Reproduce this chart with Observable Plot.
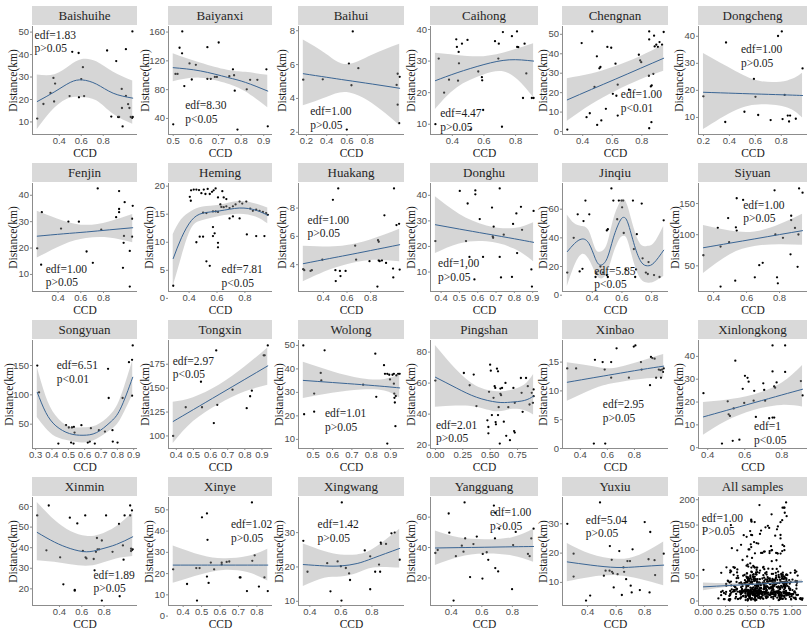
<!DOCTYPE html>
<html><head><meta charset="utf-8">
<script src="https://cdn.jsdelivr.net/npm/d3@7"></script>
<script src="https://cdn.jsdelivr.net/npm/@observablehq/plot@0.6"></script>
<style>
body{margin:0;background:#fff;}
#chart{position:relative;width:810px;height:630px;overflow:hidden;background:#fff;}
.strip{position:absolute;background:#d9d9d9;font-family:"Liberation Serif",serif;font-weight:400;font-size:13px;color:#262626;text-align:center;height:19px;line-height:19px;white-space:nowrap;}
#chart svg{position:absolute;overflow:visible;}
</style></head><body><div id="chart"></div>
<script>
// ---------- data: [CCD, Distance] ----------
const baishuihe = [[0.20,11.5],[0.256,18.0],[0.32,22.9],[0.347,29.6],[0.362,27.1],[0.353,19.1],[0.494,21.5],[0.518,41.2],[0.576,40.7],[0.579,21.0],[0.60,29.1],[0.615,34.4],[0.626,21.5],[0.835,41.8],[0.873,12.4],[0.918,37.1],[0.935,12.2],[0.944,12.2],[0.968,24.7],[0.97,16.2],[0.976,8.0],[1.006,42.4],[1.006,21.6],[1.026,17.9],[1.038,16.2],[1.05,12.2],[1.062,11.8],[1.068,12.2],[1.065,50.3]];
const baiyanxi = [[0.50,31.8],[0.51,101.8],[0.519,101.8],[0.528,138.2],[0.54,160.9],[0.539,130.5],[0.549,85],[0.572,116.4],[0.582,94.1],[0.60,114.5],[0.651,139],[0.651,95],[0.666,95],[0.684,97.7],[0.693,97.7],[0.701,145.5],[0.748,98.6],[0.764,108.2],[0.769,100],[0.772,78.6],[0.784,24.5],[0.825,80.5],[0.84,93.6],[0.872,93.6],[0.912,108.2],[0.918,29.1]];
const baihui = [[0.169,5.11],[0.361,5.13],[0.619,6.06],[0.657,7.96],[0.712,5.79],[0.644,4.78],[0.598,2.16],[1.09,4.80],[1.10,5.46],[1.12,5.28],[1.10,3.63],[1.115,2.54]];
const caihong = [[0.293,10],[0.314,30.8],[0.348,20],[0.379,24.1],[0.425,36.9],[0.429,34.5],[0.44,32.9],[0.442,29.3],[0.436,23.8],[0.461,35.5],[0.496,36.7],[0.515,8.3],[0.564,26.7],[0.595,14.5],[0.587,24.9],[0.589,23.9],[0.67,36.3],[0.694,35.5],[0.691,30.8],[0.72,39.2],[0.714,9.2],[0.777,37.9],[0.809,39.4],[0.81,34.5],[0.817,34.4],[0.857,35.5],[0.868,26.1],[0.847,18.3],[0.903,18.3],[0.914,18.3]];
const chengnan = [[0.296,1.0],[0.393,45.5],[0.465,51.5],[0.448,9.4],[0.426,7.4],[0.496,38.7],[0.513,32.5],[0.52,33.2],[0.48,22.9],[0.498,3.4],[0.526,5.7],[0.557,11.7],[0.567,43.5],[0.593,43.1],[0.604,19.4],[0.622,34.9],[0.628,18.4],[0.637,24.1],[0.637,8.2],[0.713,21.5],[0.78,39.5],[0.789,36.6],[0.796,35.7],[0.85,51.5],[0.85,47.4],[0.848,28.7],[0.861,23.2],[0.867,23.7],[0.865,4.8],[0.85,1.7],[0.878,29.7],[0.883,49.3],[0.887,43.8],[0.898,44.7],[0.909,43.5],[0.92,46],[0.937,44.7],[0.948,51.2]];
const dongcheng = [[0.2,17.8],[0.374,37.7],[0.368,8.3],[0.589,24.2],[0.601,17.6],[0.516,12.1],[0.622,10.9],[0.718,9.0],[0.775,40.1],[0.804,41.8],[0.81,9.4],[0.826,18.3],[0.85,10.7],[0.868,10.7],[0.86,8.5],[0.912,9.5],[0.964,28.1]];
const fenjin = [[0.217,19.9],[0.257,33.6],[0.251,13.7],[0.426,27.4],[0.491,30],[0.583,30],[0.651,18.7],[0.706,14.4],[0.749,42.6],[0.78,27],[0.911,31.7],[0.937,41.6],[0.937,34.8],[0.937,33.6],[0.986,37.4],[0.98,24.6],[0.977,22],[0.971,12.5],[1.031,18.9],[1.031,5.4],[1.057,36],[1.051,31.1],[1.051,24.3]];
const heming = [[0.286,2.25],[0.405,18.1],[0.412,17.4],[0.414,19.25],[0.433,19.4],[0.452,19.4],[0.471,19.3],[0.488,18.75],[0.505,19.4],[0.517,18.6],[0.533,19.5],[0.548,18.6],[0.564,19],[0.576,19.25],[0.59,19.6],[0.607,18],[0.638,19.1],[0.648,18],[0.667,17.7],[0.5,15.3],[0.524,15.2],[0.571,15.5],[0.59,15.5],[0.607,15.4],[0.624,16.75],[0.631,16.3],[0.648,16.25],[0.667,16.4],[0.69,16.1],[0.714,16.4],[0.733,16.75],[0.762,17.25],[0.781,16.9],[0.81,17.25],[0.838,16],[0.857,15.6],[0.881,15.8],[0.905,15.6],[0.929,15.4],[0.952,15.2],[0.964,14.9],[0.452,10.0],[0.476,11],[0.5,11],[0.571,11.1],[0.583,11.6],[0.524,6.6],[0.548,5.8],[0.607,9.9],[0.607,9.1],[0.69,14.25],[0.714,14.6],[0.814,11.4],[0.881,11.1],[0.94,11.1],[0.571,12.7],[0.762,14.25]];
const huakang = [[0.231,3.68],[0.239,3.61],[0.292,3.56],[0.303,3.61],[0.392,4.35],[0.481,8.58],[0.526,9.39],[0.502,3.61],[0.505,2.84],[0.54,3.56],[0.545,3.19],[0.588,3.56],[0.669,5.34],[0.677,4.35],[0.79,4.25],[0.862,5.73],[0.868,5.62],[0.868,4.3],[0.876,4.25],[0.895,4.3],[0.916,7.49],[0.93,4.12],[0.857,2.45],[0.989,3.72],[0.991,3.1],[0.997,9.39],[1.018,6.8],[1.04,6.89],[1.045,3.65]];
const donghu = [[0.369,22.1],[0.502,41.7],[0.545,36.8],[0.536,22.1],[0.555,15.9],[0.587,41.9],[0.587,40.4],[0.582,7.1],[0.611,30.7],[0.629,15.9],[0.678,35.2],[0.687,27.7],[0.682,23.9],[0.684,23.4],[0.72,42.7],[0.72,15.9],[0.727,7.9],[0.742,24.6],[0.787,8.1],[0.793,28.8],[0.811,32.9],[0.815,17.4],[0.836,35.5],[0.842,26.5],[0.905,33.9],[0.893,11],[0.896,4.3]];
const jinqiu = [[0.232,15.8],[0.275,40],[0.302,56.4],[0.315,16.6],[0.334,18.4],[0.341,51.7],[0.354,66],[0.38,56.4],[0.422,12.7],[0.428,15.3],[0.455,20],[0.472,15.8],[0.498,45.2],[0.505,46],[0.498,14],[0.505,12.7],[0.529,74.5],[0.542,66],[0.568,53],[0.579,66],[0.597,66],[0.608,66],[0.601,61.3],[0.612,43.4],[0.625,18],[0.674,66],[0.68,32.2],[0.689,12.7],[0.695,18],[0.7,42.6],[0.733,63.9],[0.739,25.7],[0.761,15.8],[0.774,14.8],[0.779,23.1],[0.816,14],[0.853,12.7],[0.881,52.2]];
const siyuan = [[0.338,67],[0.425,111],[0.442,81],[0.442,16.7],[0.488,126.7],[0.494,88],[0.531,26.2],[0.535,111.9],[0.54,106.6],[0.54,158.5],[0.579,155.8],[0.65,31.5],[0.677,51],[0.698,54.8],[0.77,171.2],[0.775,100.3],[0.785,31.5],[0.79,22],[0.821,95],[0.867,68.5],[0.871,130.4],[0.871,123.5],[0.894,110.8],[0.91,48.4],[0.915,100.3],[0.919,174.3],[0.94,167.5]];
const songyuan = [[0.31,150],[0.321,104.3],[0.439,16.9],[0.486,48.3],[0.503,44.3],[0.517,18.6],[0.522,44.3],[0.532,16.9],[0.534,45.4],[0.538,35.7],[0.58,48.3],[0.619,18.6],[0.631,20.3],[0.638,43.1],[0.662,16.9],[0.687,39.7],[0.724,37.4],[0.743,144.3],[0.747,94.6],[0.77,39.7],[0.772,20.3],[0.801,18.6],[0.832,94.6],[0.871,155.7],[0.89,159.7],[0.89,98.6],[0.894,184.3]];
const tongxin = [[0.382,100],[0.455,130],[0.544,156.7],[0.55,130],[0.633,189.5],[0.619,113.5],[0.639,132.5],[0.728,148.4],[0.811,129],[0.831,141.5],[0.841,147.3],[0.91,184.3],[0.916,184.3],[0.934,194.7]];
const wolong = [[0.449,50],[0.453,20.7],[0.505,29.5],[0.505,21.8],[0.539,38.3],[0.542,35.1],[0.559,47.9],[0.758,33.3],[0.821,46.5],[0.826,28.1],[0.866,41.6],[0.871,37.9],[0.883,37.9],[0.883,8.2],[0.893,37.5],[0.897,35.5],[0.91,37.5],[0.917,37.9],[0.917,33.7],[0.919,29.5],[0.92,27.7],[0.922,25.7],[0.925,15.6],[0.927,28.5],[0.939,37.9],[0.947,37.9],[0.93,37.2]];
const pingshan = [[0.0,61.6],[0.26,66.5],[0.313,58.6],[0.35,65.5],[0.375,45.2],[0.475,36],[0.484,31.7],[0.484,27.6],[0.49,54.4],[0.5,71.9],[0.506,68],[0.516,39.4],[0.531,50.5],[0.541,58],[0.547,56.9],[0.55,34.9],[0.553,33.4],[0.5625,69.3],[0.572,67.6],[0.572,39.4],[0.578,44.5],[0.588,21],[0.594,56.5],[0.594,53.1],[0.6,52.2],[0.609,56.9],[0.625,35.1],[0.64,60.1],[0.647,26],[0.666,44.5],[0.681,23.2],[0.7125,56.9],[0.719,29.1],[0.725,28.1],[0.725,47.3],[0.781,63.3],[0.7875,53.7],[0.797,41.5],[0.828,63.3],[0.844,58],[0.86,46.2],[0.88,53.7],[0.89,47.3],[0.897,55.9],[0.897,51.6]];
const xinbao = [[0.304,13.9],[0.369,13.9],[0.508,15.4],[0.565,15],[0.58,13.7],[0.628,15],[0.628,12.3],[0.668,17.4],[0.5,0.85],[0.584,0.85],[0.759,12.3],[0.795,17.7],[0.807,17.9],[0.848,15],[0.853,13.7],[0.915,11],[0.922,15.9],[0.932,15.7],[0.949,15.6],[0.96,12.3],[0.98,13.7],[0.992,13.6],[0.996,12.3],[1.004,13.7],[1.011,13.3],[1.016,13.9]];
const xinlongkong = [[0.377,23.9],[0.477,1.8],[0.508,20.3],[0.513,14.6],[0.52,13.9],[0.535,3],[0.54,17.2],[0.549,38.1],[0.571,3.5],[0.589,25.8],[0.597,19.6],[0.601,31.5],[0.615,30.6],[0.621,28.9],[0.648,20.6],[0.651,24.9],[0.66,13.5],[0.7,28.2],[0.705,25.3],[0.71,20.6],[0.732,12.9],[0.75,44.8],[0.75,33.4],[0.759,26.8],[0.764,26.3],[0.75,13.2],[0.759,13.2],[0.772,28.6],[0.818,33.2],[0.818,44.8],[0.903,29.2],[0.912,22.9]];
const xinmin = [[0.201,55.7],[0.304,60.5],[0.283,38.7],[0.406,35.3],[0.435,22.2],[0.493,54.6],[0.537,19.1],[0.537,19.5],[0.56,51.8],[0.631,55.7],[0.61,38.4],[0.634,35.3],[0.642,34.8],[0.707,34.5],[0.715,29],[0.727,38],[0.736,44.7],[0.742,39.2],[0.756,39.2],[0.78,43.5],[0.78,14.3],[0.818,55.7],[0.876,38],[0.934,51.5],[0.969,41.1],[0.984,55.7],[0.975,34.2],[0.94,16.4],[1.034,60.5],[1.034,55.7],[1.05,58.1],[1.042,39.5],[1.042,38.4],[1.05,38.9],[1.057,39.2]];
const xinye = [[0.346,22],[0.421,15.1],[0.471,22.6],[0.489,22.6],[0.502,46.5],[0.529,48.3],[0.532,35.9],[0.529,18.6],[0.538,15.6],[0.475,7.3],[0.55,25.2],[0.568,22],[0.609,25.2],[0.609,24.3],[0.636,25.5],[0.65,25.7],[0.707,18.2],[0.711,18.2],[0.746,11.8],[0.773,53.5],[0.775,26],[0.788,28.6],[0.811,13.9],[0.841,18.2],[0.859,11.8]];
const xingwang = [[0.358,27.6],[0.385,18.6],[0.512,21.1],[0.533,12.9],[0.579,21.6],[0.6,20.2],[0.604,10.2],[0.606,38.8],[0.632,19.7],[0.653,18.1],[0.659,16.2],[0.754,24.8],[0.789,23.1],[0.789,13.5],[0.821,18.6],[0.846,20.7],[0.853,18.6],[0.857,27.1],[0.859,26.7],[0.891,26.7],[0.926,29.8],[0.947,30],[0.979,22.1]];
const yangguang = [[0.296,36.4],[0.311,38.4],[0.383,62.4],[0.387,49.8],[0.415,5.1],[0.43,34.3],[0.487,69.7],[0.491,46],[0.469,41.2],[0.48,37.3],[0.523,20.6],[0.545,42.3],[0.567,47.2],[0.606,35.8],[0.604,19.6],[0.632,36.9],[0.642,31.9],[0.679,67.6],[0.688,62.8],[0.714,52.4],[0.686,46],[0.688,26.5],[0.707,24.3],[0.798,12.6],[0.805,41.6],[0.822,50.3],[0.902,35.8],[0.913,34.3],[0.924,46],[0.939,52.4]];
const yuxiu = [[0.258,30],[0.302,19.8],[0.302,12],[0.389,3.8],[0.418,5.5],[0.487,37.3],[0.514,12.3],[0.526,14],[0.554,14],[0.556,22.4],[0.569,17.7],[0.571,13.6],[0.578,13.1],[0.583,8.3],[0.61,12.8],[0.622,20.7],[0.64,5.7],[0.651,15.1],[0.656,13.6],[0.67,11.1],[0.679,17.3],[0.697,17.3],[0.702,8.9],[0.709,6.6],[0.715,21.3],[0.766,7.4],[0.8,30.6],[0.827,17.9],[0.839,27.2],[0.834,6.6],[0.869,17.6],[0.873,12.5],[0.933,19.8]];

// ---------- smooth fits: [CCD, fit, lower, upper] ----------
const baishuiheFit = [[0.20,19.1,6.6,30.9],[0.36,23.5,16.2,31.0],[0.50,27.6,20.6,35.0],[0.61,28.7,20.8,37.8],[0.74,26.8,19.4,36.8],[0.89,22.8,13.5,32.2],[1.068,20.6,9.0,28.2]];
const baiyanxiFit = [[0.50,110.5,91,130],[0.62,106,96,117],[0.74,97,88,107],[0.82,90,77,104],[0.918,78,55,100]];
const baihuiFit = [[0.169,5.46,3.57,7.45],[0.4,5.25,4.06,6.6],[0.6,5.07,4.35,6.0],[0.85,4.85,3.7,6.55],[1.12,4.6,2.4,7.2]];
const caihongFit = [[0.293,23.8,14.7,32.5],[0.43,26.3,21.5,31.8],[0.6,28.9,25.6,31.4],[0.76,30.4,26.0,33.0],[0.914,30.0,18.5,35.5]];
const chengnanFit = [[0.296,16.3,5.3,27.2],[0.46,21.7,13.8,29.6],[0.62,26.9,20.5,33.3],[0.79,32.5,26.5,38.5],[0.948,37.7,31,44.5]];
const dongchengFit = [[0.2,19.3,5.5,33.6],[0.45,18.9,12.5,27],[0.65,18.6,14.7,23.2],[0.85,18.3,13.5,23.5],[0.964,18.1,9.8,26.3]];
const fenjinFit = [[0.217,24.5,16.2,33.9],[0.45,25.4,21.2,30.2],[0.65,26.1,23.6,28.6],[0.85,26.9,23.8,29.9],[1.057,27.7,22,32.7]];
const hemingFit = [[0.286,7.1,2.1,11.4],[0.345,10.8,7.2,14.0],[0.417,13.9,12.4,15.5],[0.5,15.2,13.9,16.3],[0.62,15.6,14.6,16.6],[0.76,16.1,15.0,17.25],[0.88,15.7,14.5,16.8],[0.964,14.8,13.3,16.1]];
const huakangFit = [[0.231,4.07,2.8,5.3],[0.45,4.43,3.6,5.25],[0.6,4.67,4.0,5.35],[0.8,5.0,4.3,5.75],[1.045,5.41,4.2,6.5]];
const donghuFit = [[0.369,28.5,17.2,39.4],[0.5,26.8,21,32.6],[0.65,24.9,21.8,28.0],[0.8,23.0,19,27.0],[0.905,21.6,14,29.3]];
const jinqiuFit = [[0.232,30.4,6,56],[0.28,36,20,50],[0.33,39.2,28.3,48],[0.378,36,25,45],[0.42,25.7,16,33],[0.455,21,11.4,30],[0.5,25.7,15,35],[0.542,40,28,52],[0.586,51.7,39,64],[0.612,54.3,41,67],[0.64,50.4,38,62],[0.684,34.8,22,46],[0.73,23.1,11,35],[0.772,20.5,8.5,34],[0.816,22.6,9,36],[0.881,31.4,13,48]];
const siyuanFit = [[0.338,79.1,37.8,114.6],[0.5,86.5,68,106],[0.65,93.3,81,104.5],[0.8,100.2,84,116],[0.94,106.5,83,133]];
const songyuanFit = [[0.31,104.3,61.4,147],[0.362,70,43.1,98.6],[0.424,47.1,28.3,64.3],[0.507,34,21.4,45.4],[0.59,31.1,18,44],[0.673,35.7,24,47.5],[0.755,52.9,38.6,64.3],[0.818,75.7,56.9,92.9],[0.894,130,100,158]];
const tongxinFit = [[0.382,115.2,92,135.2],[0.5,127.6,115,140],[0.65,143.4,133,153],[0.8,159.2,146,172],[0.934,173.3,153,192]];
const wolongFit = [[0.449,35.1,27.4,42.8],[0.6,34.2,29.6,38.8],[0.75,33.3,31.0,35.8],[0.87,32.5,30.6,35.5],[0.947,31.9,27.6,37.5]];
const pingshanFit = [[0.0,63.8,44.5,84.3],[0.19,56.9,45.2,68.7],[0.375,50.9,44.5,58],[0.5625,47.7,41.5,54.4],[0.6875,47.7,43,55.2],[0.8125,48.8,42.4,58.6],[0.897,51.6,39.4,65.5]];
const xinbaoFit = [[0.304,11.5,8.2,14.9],[0.5,12.3,10.3,14.2],[0.65,12.9,11.3,13.9],[0.85,13.7,12.0,15.1],[1.016,14.3,12.3,16.3]];
const xinlongkongFit = [[0.377,13.5,5.4,19.8],[0.5,16.3,11.5,20.8],[0.65,19.7,16.3,23.1],[0.8,23.1,18.5,28.2],[0.912,25.6,17.8,36]];
const xinminFit = [[0.201,47.4,33.7,62],[0.356,42.7,32.9,53.4],[0.502,39.5,31.7,47.9],[0.642,38,31,45.5],[0.765,39.2,32.1,46.3],[0.911,41.6,34.5,50.2],[1.057,45.3,35.7,57]];
const xinyeFit = [[0.346,24,15.5,33],[0.5,24,19.5,28.5],[0.62,24,21.5,27],[0.75,24,20.5,28],[0.859,24,16.5,31.5]];
const xingwangFit = [[0.358,20.7,14.3,26.7],[0.495,20.3,16.7,24.5],[0.6,20.3,17.1,23.5],[0.705,21,18.1,23.5],[0.81,22.6,19.7,25.2],[0.979,25.4,19.7,31]];
const yangguangFit = [[0.296,39.7,28.2,50.9],[0.45,39.95,33.5,46.4],[0.62,40.2,35.8,45.1],[0.8,40.5,34.5,46.5],[0.939,40.7,30.4,52]];
const yuxiuFit = [[0.258,17,10.2,23.3],[0.423,15.9,11.7,19.6],[0.606,15.1,12.3,17.9],[0.766,15.4,11.1,19.3],[0.933,15.9,8.9,23.8]];
const allFit = [[0.0,28,20.5,35.5],[0.3,30.7,27.5,33.9],[0.6,33.4,31.8,35.0],[0.85,35.7,33.5,37.9],[1.12,38.1,34.5,41.7]];

const panelNames = ["Baishuihe","Baiyanxi","Baihui","Caihong","Chengnan","Dongcheng","Fenjin","Heming","Huakang","Donghu","Jinqiu","Siyuan","Songyuan","Tongxin","Wolong","Pingshan","Xinbao","Xinlongkong","Xinmin","Xinye","Xingwang","Yangguang","Yuxiu","All samples"];
const edfText = ["edf=1.83","edf=8.30","edf=1.00","edf=4.47","edf=1.00","edf=1.00","edf=1.00","edf=7.81","edf=1.00","edf=1,00","edf=5.85","edf=1.00","edf=6.51","edf=2.97","edf=1.01","edf=2.01","edf=2.95","edf=1","edf=1.89","edf=1.02","edf=1.42","edf=1.00","edf=5.04","edf=1.00"];
const pText = ["p>0.05","p<0.05","p>0.05","p>0.05","p<0.01","p>0.05","p>0.05","p<0.05","p>0.05","p>0.05","p<0.05","p>0.05","p<0.01","p<0.05","p>0.05","p>0.05","p>0.05","p<0.05","p>0.05","p>0.05","p>0.05","p>0.05","p>0.05","P>0.05"];
const yTickLabels = [["10","20","30","40","50"],["40","80","120","160"],["2","4","6","8"],["10","20","30","40"],["0","10","20","30","40","50"],["10","20","30","40"],["10","20","30","40"],["0","5","10","15","20"],["4","6","8"],["10","20","30","40"],["0","20","40","60"],["50","100","150"],["50","100","150"],["100","125","150","175"],["10","20","30","40","50"],["20","40","60","80"],["0","5","10","15"],["0","10","20","30","40"],["20","30","40","50","60"],["0","10","20","30","40","50"],["10","20","30"],["20","40","60"],["10","20","30"],["0","50","100","150","200"]];
const xTickLabels = [["0.4","0.6","0.8"],["0.5","0.6","0.7","0.8","0.9"],["0.2","0.4","0.6","0.8"],["0.4","0.6","0.8"],["0.4","0.6","0.8"],["0.2","0.4","0.6","0.8"],["0.4","0.6","0.8"],["0.4","0.6","0.8"],["0.4","0.6","0.8"],["0.4","0.5","0.6","0.7","0.8","0.9"],["0.4","0.6","0.8"],["0.4","0.6","0.8"],["0.3","0.4","0.5","0.6","0.7","0.8","0.9"],["0.4","0.5","0.6","0.7","0.8","0.9"],["0.5","0.6","0.7","0.8","0.9"],["0.00","0.25","0.50","0.75"],["0.4","0.6","0.8"],["0.4","0.6","0.8"],["0.4","0.6","0.8"],["0.4","0.5","0.6","0.7","0.8"],["0.4","0.6","0.8"],["0.4","0.6","0.8"],["0.4","0.6","0.8"],["0.00","0.25","0.50","0.75","1.00"]];

const pointSets = [baishuihe,baiyanxi,baihui,caihong,chengnan,dongcheng,fenjin,heming,huakang,donghu,jinqiu,siyuan,songyuan,tongxin,wolong,pingshan,xinbao,xinlongkong,xinmin,xinye,xingwang,yangguang,yuxiu];
pointSets.push(d3.merge(pointSets.slice()));
const fitSets = [baishuiheFit,baiyanxiFit,baihuiFit,caihongFit,chengnanFit,dongchengFit,fenjinFit,hemingFit,huakangFit,donghuFit,jinqiuFit,siyuanFit,songyuanFit,tongxinFit,wolongFit,pingshanFit,xinbaoFit,xinlongkongFit,xinminFit,xinyeFit,xingwangFit,yangguangFit,yuxiuFit,allFit];

// ---------- layout (positions / styles) ----------
const colLeft = [32,168,298,430,562,698];
const colW = [105,104,106,108,106,109];
const rowH = 157, areaTop = 26, areaH = 108, annGap = 13.5;
// annotation: [fraction x, fraction y of the two-line block's middle]
const annPos = [[0.02,0.14],[0.16,0.795],[0.11,0.85],[0.09,0.87],[0.55,0.695],[0.39,0.275],[0.126,0.855],[0.51,0.86],[0.086,0.40],[0.07,0.805],[0.30,0.875],[0.41,0.26],[0.23,0.295],[0.04,0.255],[0.25,0.74],[0.05,0.845],[0.38,0.655],[0.51,0.86],[0.58,0.78],[0.60,0.315],[0.18,0.315],[0.55,0.20],[0.22,0.27],[0.03,0.255]];
const serif = "Liberation Serif, Times New Roman, serif";
const sans = "Liberation Sans, Arial, sans-serif";
const axisCol = "#8c8c8c", tickTextCol = "#4d4d4d", lineCol = "#3a6594";

const chart = document.getElementById("chart");

panelNames.forEach((name, i) => {
  const r = Math.floor(i / 6), c = i % 6;
  const pts = pointSets[i], fit = fitSets[i];
  const xs = pts.map(d => d[0]).concat(fit.map(d => d[0]));
  const ys = pts.map(d => d[1]).concat(fit.map(d => d[2]), fit.map(d => d[3]));
  const [x0, x1] = d3.extent(xs), [y0, y1] = d3.extent(ys);
  const ex = (x1 - x0) * 0.05, ey = (y1 - y0) * 0.05;
  const xd = [x0 - ex, x1 + ex], yd = [y0 - ey, y1 + ey];
  const w = colW[c];
  const mL = 40, mR = 6, mT = 6, mB = 28;
  const xt = xTickLabels[i], yt = yTickLabels[i];
  const xtn = xt.map(Number), ytn = yt.map(Number);
  const nch = d3.max(yt, s => s.length);
  const yLabOff = 12.5 + 3.5 * nch;
  const [fx, fm] = annPos[i];
  const mid = fm * areaH;

  const svg = Plot.plot({
    width: mL + w + mR, height: mT + areaH + mB,
    marginLeft: mL, marginRight: mR, marginTop: mT, marginBottom: mB,
    x: {domain: xd}, y: {domain: yd},
    style: {background: "transparent", overflow: "visible", fontFamily: sans, fontSize: "9.5px"},
    marks: [
      Plot.dot(pts, {x: d => d[0], y: d => d[1], r: 1.15, fill: "#000", stroke: null}),
      Plot.areaY(fit, {x: d => d[0], y1: d => d[2], y2: d => d[3], fill: "#999999", fillOpacity: 0.4, curve: "natural"}),
      Plot.line(fit, {x: d => d[0], y: d => d[1], stroke: lineCol, strokeWidth: 1, curve: "natural"}),
      Plot.ruleX([xd[0]], {stroke: axisCol, strokeWidth: 1}),
      Plot.ruleY([yd[0]], {stroke: axisCol, strokeWidth: 1}),
      Plot.axisX({ticks: xtn, tickFormat: d => xt[xtn.indexOf(d)], tickSize: 2, tickPadding: 1, stroke: axisCol, fill: tickTextCol, fontSize: 9.5, fontFamily: sans, label: null}),
      Plot.axisY({ticks: ytn, tickFormat: d => yt[ytn.indexOf(d)], tickSize: 2, tickPadding: 1.5, stroke: axisCol, fill: tickTextCol, fontSize: 9.5, fontFamily: sans, label: null}),
      Plot.text(["CCD"], {frameAnchor: "bottom", dy: 18.5, textAnchor: "middle", lineAnchor: "middle", fontFamily: serif, fontSize: 11.5, fill: "#1a1a1a"}),
      Plot.text(["Distance(km)"], {frameAnchor: "left", dx: -yLabOff, rotate: -90, textAnchor: "middle", lineAnchor: "middle", fontFamily: serif, fontSize: 11.5, fill: "#1a1a1a"}),
      Plot.text([edfText[i]], {frameAnchor: "top-left", dx: fx * w, dy: mid - annGap / 2, textAnchor: "start", lineAnchor: "middle", fontFamily: serif, fontSize: 11.5, fill: "#1a1a1a"}),
      Plot.text([pText[i]], {frameAnchor: "top-left", dx: fx * w, dy: mid + annGap / 2, textAnchor: "start", lineAnchor: "middle", fontFamily: serif, fontSize: 11.5, fill: "#1a1a1a"})
    ]
  });
  svg.style.left = (colLeft[c] - mL) + "px";
  svg.style.top = (r * rowH + areaTop - mT) + "px";
  chart.appendChild(svg);

  const strip = document.createElement("div");
  strip.className = "strip";
  strip.style.left = colLeft[c] + "px";
  strip.style.top = (r * rowH + 6) + "px";
  strip.style.width = w + "px";
  strip.textContent = name;
  chart.appendChild(strip);
});
</script></body></html>
